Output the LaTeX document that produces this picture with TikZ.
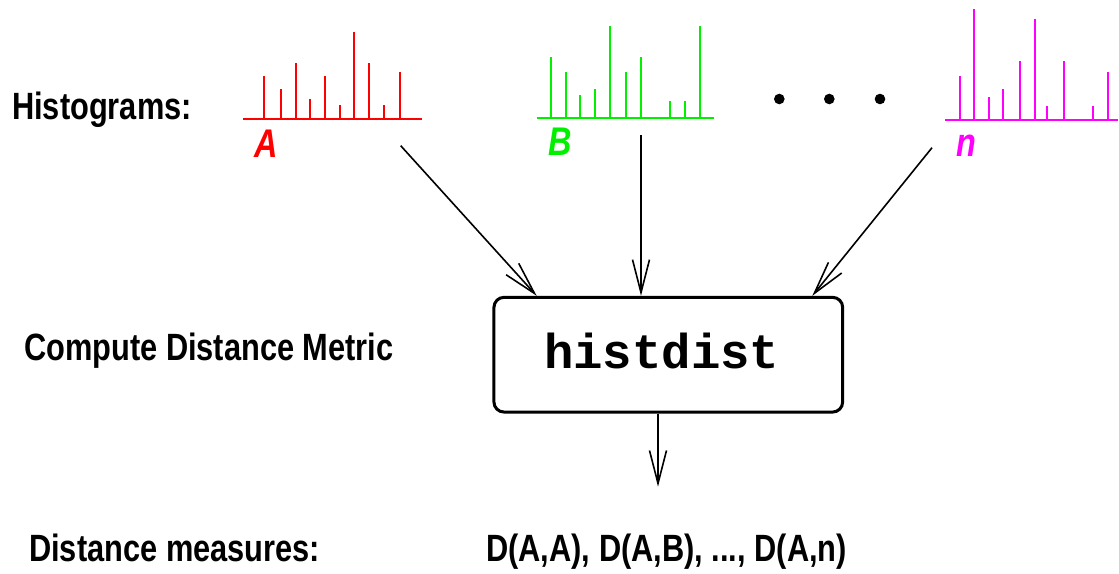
\documentclass[tikz,border=0pt]{standalone}
\usepackage{fontspec}
\setmainfont{Liberation Sans}
\newfontfamily\narrowsf[FakeStretch=0.81]{Liberation Sans}
\newfontfamily\monob{Liberation Mono}
\usetikzlibrary{arrows.meta}
\definecolor{hred}{RGB}{255,0,0}
\definecolor{hgreen}{RGB}{0,240,0}
\definecolor{hmag}{RGB}{255,0,255}
\begin{document}
\begin{tikzpicture}[x=1pt,y=-1pt,
  lbl/.style={font=\narrowsf\bfseries\fontsize{38}{40}\selectfont, inner sep=0pt, anchor=base west},
  hlbl/.style={font=\narrowsf\bfseries\itshape\fontsize{40}{42}\selectfont, inner sep=0pt, anchor=base west},
  hist/.style={line width=2.2pt},
  arr/.style={line width=1.6pt, -{Straight Barb[length=33pt,width=17pt]}},
  boxst/.style={draw, line width=3pt, rounded corners=10pt, minimum width=348.7pt, minimum height=114.7pt, inner sep=0pt}]
\useasboundingbox (0,0) rectangle (1119,573);

% histogram A
\draw[hist,hred] (243.3,119.3) -- (421.7,119.3);
\foreach \x/\t in {264.3/76,280.7/88.7,295.7/63.3,310.3/99.3,325.3/76,339.7/105.3,354.3/32,369/63.3,383.7/105.3,400.3/72}
  \draw[hist,hred] (\x,119.3) -- (\x,\t);
\node[hlbl,text=hred] (lA) at (254,157) {A};

% histogram B
\draw[hist,hgreen] (536.7,117.7) -- (714.3,117.7);
\foreach \x/\t in {551/57.3,565.7/72,580.3/95,595/89,609.7/25.7,626.3/72,641/57.3,670.3/101,685/101,700/25.7}
  \draw[hist,hgreen] (\x,117.7) -- (\x,\t);
\node[hlbl,text=hgreen] (lB) at (548,155) {B};

% histogram n
\draw[hist,hmag] (945,120) -- (1118.3,120);
\foreach \x/\t in {959.7/76,974/9,988.7/97,1003.3/88.7,1020/61.3,1035/19.3,1047.3/105.7,1064/61.3,1093.3/105.7,1108/72}
  \draw[hist,hmag] (\x,120) -- (\x,\t);
\node[hlbl,text=hmag] (ln) at (956,156.7) {n};

% dots
\foreach \x in {779.3,829.3,880}
  \fill (\x,99) circle (5.3);

% labels
\node[lbl] (t1) at (12,119.3) {Histograms:};
\node[lbl] (t2) at (24,360.7) {Compute Distance Metric};
\node[lbl] (t3) at (29,561.5) {Distance measures:};
\node[lbl] (t4) at (486,561.5) {D(A,A), D(A,B), ..., D(A,n)};

% box
\node[boxst] (box) at (668.3,354.7) {};
\node[font=\monob\bfseries\fontsize{49}{52}\selectfont, inner sep=0pt, anchor=base] (hd) at (661.7,368.3) {histdist};

% arrows
\coordinate (sA) at (400.7,145.7);
\coordinate (sB) at (641,135);
\coordinate (sn) at (932,147.7);
\coordinate (out) at (658,486.7);
\draw[arr] (sA) -- ([xshift=-131.6pt]box.north);
\draw[arr] (sB) -- ([xshift=-27.3pt]box.north);
\draw[arr] (sn) -- ([xshift=144pt]box.north);
\draw[arr] ([xshift=-10.3pt]box.south) -- (out);
\end{tikzpicture}
\end{document}
